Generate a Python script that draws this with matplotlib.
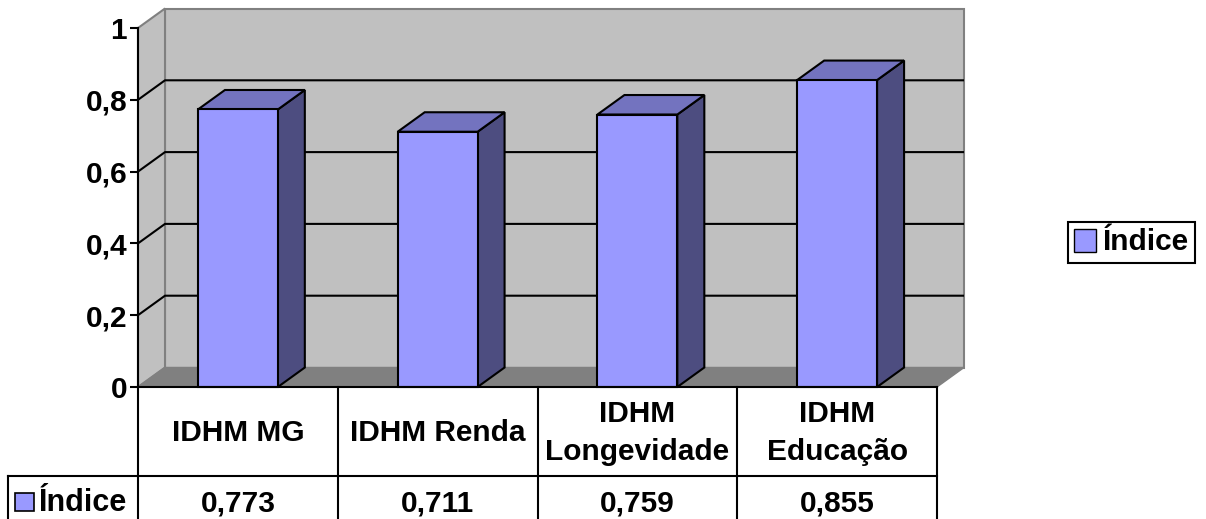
import matplotlib
matplotlib.use("Agg")
import matplotlib.pyplot as plt
from matplotlib.patches import Polygon, Rectangle, Patch

plt.rcParams['font.family'] = ['Liberation Sans', 'DejaVu Sans']
plt.rcParams['font.weight'] = 'bold'

# dados
categorias = ['IDHM MG', 'IDHM Renda', 'IDHM\nLongevidade', 'IDHM\nEducação']
indice = [0.773, 0.711, 0.759, 0.855]
rotulos_valor = ['0,773', '0,711', '0,759', '0,855']
serie = 'Índice'
yticks = [0, 0.2, 0.4, 0.6, 0.8, 1]
ytick_labels = ['0', '0,2', '0,4', '0,6', '0,8', '1']

# cores estilo Excel
cor_frente = '#9999FF'
cor_topo = '#7373BF'
cor_lado = '#4D4D80'
cor_parede = '#C0C0C0'
cor_piso = '#808080'

W, H = 1206, 519
fs = 21.5
fig = plt.figure(figsize=(W / 100, H / 100), dpi=100, facecolor='white')
ax = fig.add_axes([138 / W, (H - 387) / H, 799 / W, 359 / H])
n = len(categorias)
ax.set_xlim(0, n)
ax.set_ylim(0, 1)
ax.set_facecolor('none')

# profundidade 3D (em unidades de dados)
ux = 799 / n   # pixels por categoria
uy = 359       # pixels por unidade de valor
dx = 27 / ux
dy = 19.5 / uy
lw = 1.5

# parede do fundo, parede lateral e piso
ax.add_patch(Polygon([(dx, dy), (n + dx, dy), (n + dx, 1 + dy), (dx, 1 + dy)],
                     closed=True, facecolor=cor_parede, edgecolor=cor_piso, lw=lw, clip_on=False, zorder=1))
ax.add_patch(Polygon([(0, 0), (dx, dy), (dx, 1 + dy), (0, 1)],
                     closed=True, facecolor=cor_parede, edgecolor=cor_piso, lw=lw, clip_on=False, zorder=1))
ax.add_patch(Polygon([(0, 0), (n, 0), (n + dx, dy), (dx, dy)],
                     closed=True, facecolor=cor_piso, edgecolor=cor_piso, lw=1, clip_on=False, zorder=1.5))

# linhas de grade
for v in yticks[1:-1]:
    ax.plot([0, dx, n + dx], [v, v + dy, v + dy], color='black', lw=lw, clip_on=False, zorder=2,
            solid_capstyle='butt')

# barras 3D
larg = 0.4
for i, v in enumerate(indice):
    x0, x1 = i + 0.5 - larg / 2, i + 0.5 + larg / 2
    ax.add_patch(Polygon([(x1, 0), (x1 + dx, dy), (x1 + dx, v + dy), (x1, v)],
                         closed=True, facecolor=cor_lado, edgecolor='black', lw=lw, clip_on=False, zorder=3))
    ax.add_patch(Polygon([(x0, v), (x1, v), (x1 + dx, v + dy), (x0 + dx, v + dy)],
                         closed=True, facecolor=cor_topo, edgecolor='black', lw=lw, clip_on=False, zorder=3))
    ax.add_patch(Rectangle((x0, 0), larg, v, facecolor=cor_frente, edgecolor='black',
                           lw=lw, clip_on=False, zorder=4))

# eixo Y
for s in ['top', 'right', 'bottom']:
    ax.spines[s].set_visible(False)
ax.spines['left'].set_linewidth(lw)
ax.spines['left'].set_zorder(5)
ax.set_yticks(yticks)
ax.set_yticklabels(ytick_labels)
ax.tick_params(axis='y', direction='out', length=5.8, width=lw, pad=2, labelsize=fs)
ax.set_xticks([])

# tabela de dados
h1 = 89 / uy
h2 = 50 / uy
x_esq = -130 / ux
tk = dict(color='black', lw=lw, clip_on=False, zorder=5, solid_capstyle='projecting')
ax.plot([0, n], [0, 0], **tk)
ax.plot([x_esq, n], [-h1, -h1], **tk)
ax.plot([x_esq, n], [-h1 - h2, -h1 - h2], **tk)
ax.plot([x_esq, x_esq], [-h1, -h1 - h2], **tk)
for i in range(n + 1):
    ax.plot([i, i], [0, -h1 - h2], **tk)
y_val = -h1 - 27 / uy
for i, (c, r) in enumerate(zip(categorias, rotulos_valor)):
    ax.text(i + 0.5, -h1 / 2 - 1.5 / uy, c, ha='center', va='center', fontsize=fs,
            fontweight='bold', linespacing=1.45, clip_on=False)
    ax.text(i + 0.5, y_val, r, ha='center', va='center', fontsize=fs,
            fontweight='bold', clip_on=False)

# chave da série na tabela
ax.add_patch(Rectangle((x_esq + 7 / ux, y_val - 8 / uy), 19 / ux, 18 / uy,
                       facecolor=cor_frente, edgecolor='black', lw=1.2, clip_on=False, zorder=5))
ax.text(x_esq + 31 / ux, y_val, serie, ha='left', va='center', fontsize=fs + 0.5,
        fontweight='bold', clip_on=False)

# legenda
leg = fig.legend(handles=[Patch(facecolor=cor_frente, edgecolor='black', label=serie)],
                 loc='center', bbox_to_anchor=(1131.5 / W, 1 - 242.5 / H),
                 prop={'size': fs, 'weight': 'bold'}, frameon=True, fancybox=False,
                 edgecolor='black', framealpha=1, handlelength=0.72, handleheight=0.8,
                 handletextpad=0.22, borderpad=0.22)
leg.get_frame().set_linewidth(lw)

fig.savefig('out.png', dpi=100, facecolor='white')
